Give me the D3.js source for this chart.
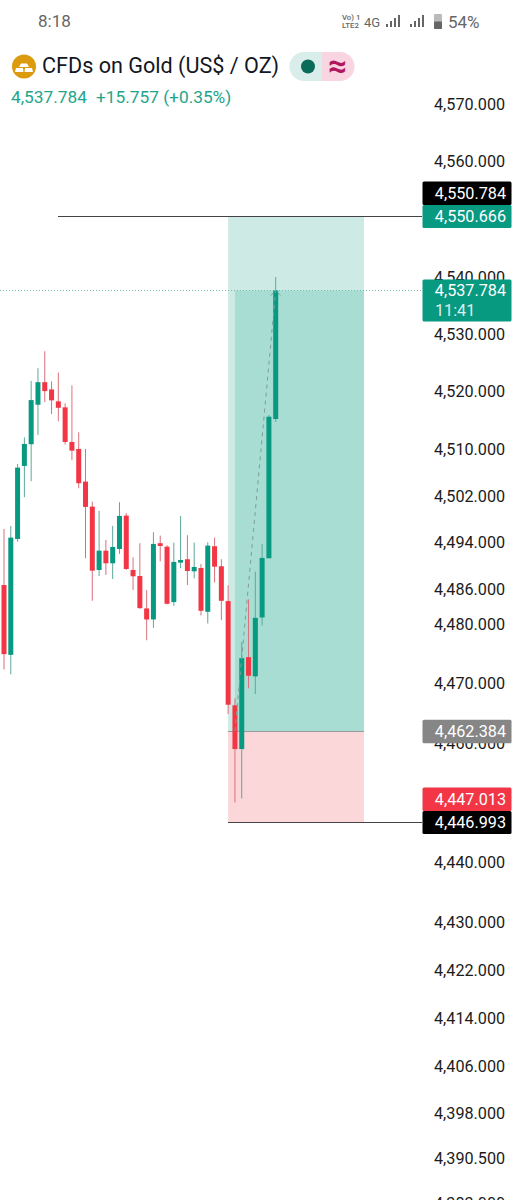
<!DOCTYPE html>
<html><head><meta charset="utf-8">
<script src="https://cdn.jsdelivr.net/npm/d3@7/dist/d3.min.js"></script>
<style>html,body{margin:0;padding:0;background:#fff;overflow:hidden}svg{display:block;font-family:Roboto,sans-serif}</style>
</head><body><div id="c"></div>
<script>
const opens=[4487.25,4475.35,4495.12,4507.62,4511.34,4518.12,4522.0,4520.75,4518.70,4517.67,4511.73,4510.53,4504.93,4500.65,4489.82,4493.12,4490.96,4493.41,4499.11,4489.82,4488.79,4483.26,4481.38,4494.39,4493.80,4484.34,4491.07,4491.65,4489.59,4490.16,4482.68,4493.87,4490.45,4484.51,4466.77,4459.35,4474.96,4471.69,4481.72,4491.82,4515.67];
const closes=[4475.47,4495.35,4507.33,4511.39,4518.92,4522.0,4520.46,4518.87,4517.60,4511.73,4510.24,4504.66,4500.60,4489.70,4493.12,4490.96,4493.75,4499.06,4489.99,4488.74,4483.31,4481.38,4494.27,4493.92,4484.05,4491.19,4491.53,4489.64,4490.33,4482.85,4493.98,4490.38,4484.56,4466.87,4459.35,4474.79,4471.79,4481.65,4491.87,4516.06,4537.784];
const highs=[4496.84,4497.35,4507.96,4512.53,4522.22,4524.40,4527.33,4522.12,4523.66,4518.36,4521.44,4513.39,4510.53,4501.51,4499.92,4494.95,4497.35,4501.41,4499.52,4491.99,4494.39,4486.39,4496.27,4495.69,4494.04,4494.49,4499.06,4495.76,4494.49,4490.84,4494.56,4495.35,4491.65,4487.20,4467.95,4477.54,4484.80,4489.52,4494.27,4516.35,4540.11];
const lows=[4472.87,4472.03,4494.66,4502.26,4505.0,4512.93,4518.58,4516.52,4515.27,4511.27,4508.60,4503.80,4491.82,4484.56,4488.79,4488.96,4488.28,4492.56,4489.82,4486.39,4483.19,4477.83,4479.95,4491.31,4483.94,4483.70,4490.11,4487.25,4488.39,4482.06,4480.69,4487.71,4481.26,4465.29,4450.30,4450.98,4469.65,4468.68,4480.35,4491.82,4515.16];
const tickValues=[4570,4560,4540,4530,4520,4510,4502,4494,4486,4480,4470,4460,4440,4430,4422,4414,4406,4398,4390.5,4383];
const lastPrice=4537.784, targetPrice=4550.666, targetCursor=4550.784, entryPrice=4462.384, stopPrice=4447.013, stopCursor=4446.993;
const countdown="11:41";
const title="CFDs on Gold (US$ / OZ)", quote="4,537.784", change="+15.757 (+0.35%)";
const GREEN="#089981", RED="#f23645";

const W=519,H=1200;
const svg=d3.select("#c").append("svg").attr("width",W).attr("height",H);
const x=d3.scaleLinear().domain([0,40]).range([4,275.7]);
const y=d3.scaleLog().domain([targetPrice,stopCursor]).range([216,822]);
const fmt=d3.format(",.3f");
const candles=opens.map((o,i)=>({i,o,c:closes[i],h:highs[i],l:lows[i]}));
const iStart=33,iEntry=34,iLeft=8,iRight=53,iLast=40;
const plotR=422;

// position tool
const g=svg.append("g");
g.append("rect").attr("x",x(iStart)).attr("width",x(iRight)-x(iStart)).attr("y",y(targetPrice)).attr("height",y(entryPrice)-y(targetPrice)).attr("fill","#cdeae5");
g.append("rect").attr("x",x(iEntry)).attr("width",x(iRight)-x(iEntry)).attr("y",y(lastPrice)).attr("height",y(entryPrice)-y(lastPrice)).attr("fill","#a7ddd2");
g.append("rect").attr("x",x(iStart)).attr("width",x(iRight)-x(iStart)).attr("y",y(entryPrice)).attr("height",y(stopCursor)-y(entryPrice)).attr("fill","#fbd7da");
const rule=g.append("g").attr("shape-rendering","crispEdges");
rule.append("line").attr("x1",x(iStart)).attr("x2",x(iRight)).attr("y1",y(entryPrice)).attr("y2",y(entryPrice)).attr("stroke","#9a9a9a");
rule.append("line").attr("x1",x(iLeft)).attr("x2",plotR).attr("y1",y(targetPrice)).attr("y2",y(targetPrice)).attr("stroke","#444");
rule.append("line").attr("x1",x(iStart)).attr("x2",plotR).attr("y1",y(stopCursor)).attr("y2",y(stopCursor)).attr("stroke","#444");
rule.append("line").attr("x1",0).attr("x2",plotR).attr("y1",y(lastPrice)).attr("y2",y(lastPrice)).attr("stroke","#6fbfb0").attr("stroke-dasharray","1 2");

// candles
const cg=svg.append("g").selectAll("g").data(candles).join("g");
cg.append("line").attr("x1",d=>x(d.i)).attr("x2",d=>x(d.i)).attr("y1",d=>y(d.h)).attr("y2",d=>y(d.l))
  .attr("stroke",d=>d.c>=d.o?"#5ba99b":"#d9717b").attr("stroke-width",1);
cg.append("rect").attr("x",d=>x(d.i)-2.5).attr("width",5).attr("y",d=>y(Math.max(d.o,d.c)))
  .attr("height",d=>Math.max(2,Math.abs(y(d.o)-y(d.c)))).attr("fill",d=>d.c>=d.o?GREEN:RED);

// dashed trade path
svg.append("line").attr("x1",x(iEntry)).attr("y1",y(entryPrice)).attr("x2",x(iLast)).attr("y2",y(lastPrice))
  .attr("stroke","#7f9f98").attr("stroke-width",1).attr("stroke-dasharray","4 4");
const ax=x(iLast), ay=y(lastPrice);
svg.append("path").attr("d",d3.line()([[ax-5,ay+5],[ax-2,ay+2]])+d3.line()([[ax+2,ay+2],[ax+5,ay+5]])).attr("stroke","#7f9f98").attr("fill","none");

// axis: tick labels sit slightly above the log position through the middle of the range
const labelShift=d3.scaleLinear().domain([4540,4510,4470,4440,4422]).range([-1,-3,-3.5,-1,0]).clamp(true);
const axis=d3.axisRight(y).tickValues(tickValues).tickFormat(fmt).tickSize(0).tickPadding(0);
const axG=svg.append("g").attr("transform","translate(434,0)").call(axis);
axG.select(".domain").remove();
axG.selectAll("text").attr("font-family","Roboto").attr("font-size",16.2).attr("fill","#1c1c1c").attr("dy",d=>(labelShift(d)+5.5)+"px");

// price labels
function tag(top,h,fill,lines){
  const t=svg.append("g");
  t.append("rect").attr("x",422.5).attr("y",top).attr("width",89).attr("height",h).attr("rx",1.5).attr("fill",fill);
  lines.forEach(l=>t.append("text").attr("x",l.a==="s"?435:506).attr("text-anchor",l.a==="s"?"start":"end").attr("y",l.dy+top).attr("font-size",16.2).attr("fill","#fff").attr("opacity",l.o||1).text(l.t));
}
tag(y(targetPrice)-34.5,23.5,"#000",[{t:fmt(targetCursor),dy:17}]);
tag(y(targetPrice)-11,23,GREEN,[{t:fmt(targetPrice),dy:17}]);
tag(y(lastPrice)-11,42,GREEN,[{t:fmt(lastPrice),dy:16},{t:countdown,dy:36,a:"s",o:.85}]);
tag(y(entryPrice)-11.5,23.5,"#868686",[{t:fmt(entryPrice),dy:17}]);
tag(y(stopCursor)-34.5,23.5,RED,[{t:fmt(stopPrice),dy:17}]);
tag(y(stopCursor)-11,23,"#000",[{t:fmt(stopCursor),dy:17}]);

// header
svg.append("text").attr("x",38).attr("y",27).attr("font-size",17).attr("fill","#666").text("8:18");
const st=svg.append("g").attr("fill","#666");
st.append("text").attr("x",342).attr("y",19.5).attr("font-size",7.8).attr("font-weight",500).text("Vo) 1");
st.append("text").attr("x",342).attr("y",27.5).attr("font-size",7.8).attr("font-weight",500).text("LTE2");
st.append("text").attr("x",364).attr("y",27).attr("font-size",13).text("4G");
st.selectAll(".b1").data([3,6,9,12]).join("rect").attr("x",(d,i)=>386+i*4).attr("width",2).attr("y",d=>27-d).attr("height",d=>d);
st.selectAll(".b2").data([3,6,9,12]).join("rect").attr("x",(d,i)=>410+i*4).attr("width",2).attr("y",d=>27-d).attr("height",d=>d);
st.append("rect").attr("x",434).attr("y",14).attr("width",8).attr("height",15).attr("rx",1).attr("fill","#bbb");
st.append("rect").attr("x",434).attr("y",21.5).attr("width",8).attr("height",7.5).attr("rx",1).attr("fill","#666");
st.append("text").attr("x",448).attr("y",27.5).attr("font-size",17).text("54%");

const coin=svg.append("g").attr("transform","translate(24,66.5)");
coin.append("circle").attr("r",12).attr("fill","#dc9a0e");
coin.selectAll("path").data(["M-3,-3 L3,-3 L5,0.5 L-5,0.5Z","M-8,1.5 L-1,1.5 L-0.5,5.5 L-9,5.5Z","M1,1.5 L8,1.5 L9,5.5 L0.5,5.5Z"]).join("path").attr("d",d=>d).attr("fill","#fff");
svg.append("text").attr("x",42).attr("y",73).attr("font-size",21.6).attr("fill","#131722").text(title);
svg.append("path").attr("d","M304,52 H322 V81 H304 A14.5,14.5 0 0 1 304,52Z").attr("fill","#d9edea");
svg.append("path").attr("d","M322,52 H340 A14.5,14.5 0 0 1 340,81 H322Z").attr("fill","#f9d5e2");
svg.append("circle").attr("cx",308).attr("cy",66.5).attr("r",7).attr("fill","#0b6b5b");
svg.append("text").attr("x",337.5).attr("y",77).attr("text-anchor","middle").attr("font-size",33).attr("font-weight",700).attr("fill","#b0175f").text("≈");
svg.append("text").attr("x",11).attr("y",103).attr("font-size",17.3).attr("fill","#22a58a").text(quote);
svg.append("text").attr("x",96).attr("y",103).attr("font-size",17.3).attr("fill","#22a58a").text(change);
</script></body></html>
